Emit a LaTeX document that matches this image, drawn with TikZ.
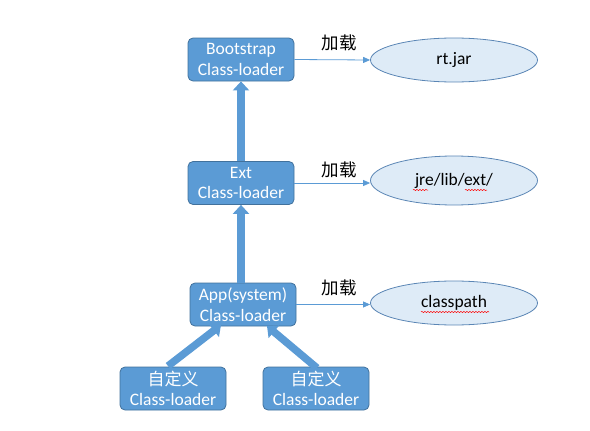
\documentclass[tikz,border=0pt]{standalone}
\usepackage{fontspec}
\setmainfont{Carlito}
\newfontfamily\cjk{Noto Sans CJK SC}
\usetikzlibrary{shapes.geometric,arrows.meta,decorations.pathmorphing}
\definecolor{boxblue}{HTML}{5B9BD5}
\definecolor{boxedge}{HTML}{41719C}
\definecolor{ellfill}{HTML}{DEEBF7}
\definecolor{elledge}{HTML}{5B86B5}
\begin{document}
\begin{tikzpicture}[x=1pt,y=-1pt,
  loader/.style={draw=boxedge,line width=0.8pt,fill=boxblue,rounded corners=5pt,
    minimum width=106pt,minimum height=43pt,inner sep=0pt,text=white,
    align=center,font=\fontsize{17.5}{20.5}\selectfont},
  target/.style={ellipse,draw=elledge,line width=0.8pt,fill=ellfill,
    minimum width=167pt,minimum height=44pt,inner sep=0pt,
    font=\fontsize{17.5}{20}\selectfont},
  loadarrow/.style={draw=boxblue,line width=0.8pt,-{Triangle[width=6pt,length=7pt]}},
  parentarrow/.style={draw=boxblue,line width=7.5pt,-{Triangle[width=16pt,length=9pt]}},
  lbl/.style={font=\cjk\fontsize{17.5}{20}\selectfont,inner sep=0pt},
  squig/.style={draw=red,line width=0.5pt,decorate,decoration={snake,amplitude=0.6pt,segment length=3pt}}
]
\useasboundingbox (0,0) rectangle (590,431);
\node[loader] (boot) at (241,59.5) {Bootstrap\\Class-loader};
\node[loader] (ext) at (241,183) {Ext\\Class-loader};
\node[loader] (app) at (243,304.5) {App(system)\\Class-loader};
\node[loader] (c1) at (173,388.5) {{\cjk\fontsize{17}{20.5}\selectfont 自定义}\\Class-loader};
\node[loader] (c2) at (316,388.5) {{\cjk\fontsize{17}{20.5}\selectfont 自定义}\\Class-loader};

\node[target] (rt) at (454,60) {rt.jar};
\node[target,minimum height=49pt] (jre) at (454,180.5) {jre/lib/ext/};
\node[target] (cp) at (454,303) {classpath};

\draw[loadarrow] (boot.east) -- (rt.west);
\draw[loadarrow] (ext.east) -- (jre.west |- ext.east);
\draw[loadarrow] (app.east) -- (cp.west |- app.east);

\node[lbl] (l1) at (339,43) {加载};
\node[lbl] (l2) at (339,170) {加载};
\node[lbl] (l3) at (339,288) {加载};

\draw[parentarrow] (ext.north -| boot.south) -- (boot.south);
\draw[parentarrow] (app.north -| ext.south) -- (ext.south);

\coordinate (t1) at (168,366);
\coordinate (h1) at (221,325);
\coordinate (t2) at (317,368);
\coordinate (h2) at (267,326);
\draw[parentarrow] (t1) -- (h1);
\draw[parentarrow] (t2) -- (h2);

\coordinate (s1a) at (413,190); \coordinate (s1b) at (428,190);
\coordinate (s2a) at (465,190); \coordinate (s2b) at (487,190);
\coordinate (s3a) at (421,312); \coordinate (s3b) at (489,312);
\draw[squig] (s1a) -- (s1b);
\draw[squig] (s2a) -- (s2b);
\draw[squig] (s3a) -- (s3b);
\end{tikzpicture}
\end{document}
